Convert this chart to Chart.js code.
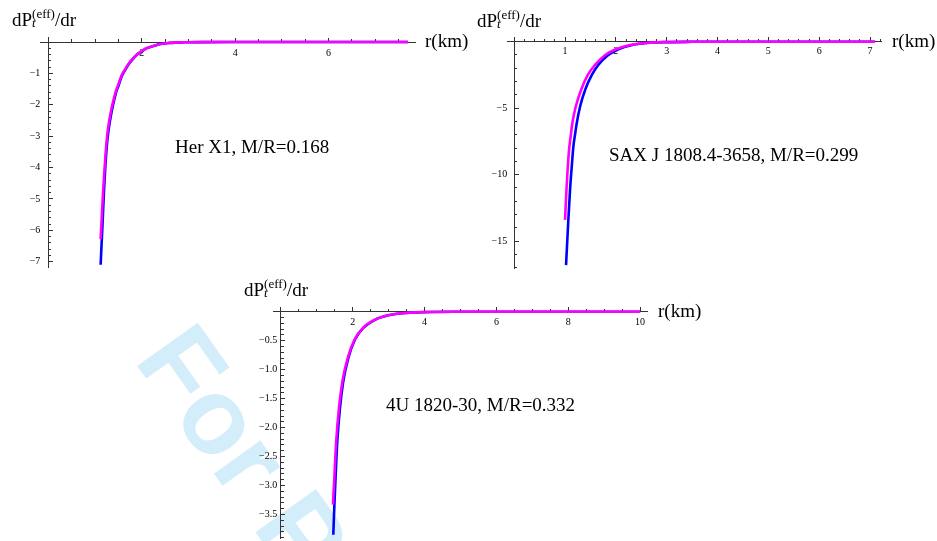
<!DOCTYPE html>
<html>
<head>
<meta charset="utf-8">
<script src="https://cdn.jsdelivr.net/npm/chart.js@4.4.0/dist/chart.umd.min.js"></script>
<style>
html,body{margin:0;padding:0;background:#fff;}
body{width:937px;height:541px;position:relative;overflow:hidden;font-family:"Liberation Serif","Times New Roman",serif;color:#000;}
canvas{position:absolute;}
.txt{position:absolute;font-size:19px;line-height:19px;white-space:nowrap;}
.wm{position:absolute;left:133px;top:360px;transform-origin:0 0;transform:rotate(54.6deg) translateY(-91px);font-family:"Liberation Sans",Arial,sans-serif;font-weight:bold;font-size:108px;line-height:108px;color:#D4EDFA;white-space:nowrap;}
.ss{position:relative;}
.sup{position:relative;top:-8px;font-size:13px;}
.sub{position:absolute;left:0;top:7px;font-size:13px;line-height:13px;font-style:italic;}
</style>
</head>
<body>
<div class="wm">For Peer Review</div>
<canvas id="c1" width="470" height="280" style="left:0px;top:0px;"></canvas>
<canvas id="c2" width="467" height="280" style="left:470px;top:0px;"></canvas>
<canvas id="c3" width="500" height="300" style="left:220px;top:270px;"></canvas>

<div class="txt" style="left:12px;top:10px;">dP<span class="ss"><i class="sub">t</i><span class="sup">(eff)</span></span>/dr</div>
<div class="txt" style="left:425px;top:30.5px;">r(km)</div>
<div class="txt" style="left:175px;top:137px;">Her X1, M/R=0.168</div>

<div class="txt" style="left:477px;top:10.5px;">dP<span class="ss"><i class="sub">t</i><span class="sup">(eff)</span></span>/dr</div>
<div class="txt" style="left:892px;top:30.5px;">r(km)</div>
<div class="txt" style="left:609px;top:145px;">SAX J 1808.4-3658, M/R=0.299</div>

<div class="txt" style="left:244px;top:280px;">dP<span class="ss"><i class="sub">t</i><span class="sup">(eff)</span></span>/dr</div>
<div class="txt" style="left:658px;top:300.5px;">r(km)</div>
<div class="txt" style="left:386px;top:395px;">4U 1820-30, M/R=0.332</div>

<script>
// ---------- Panel 1: Her X1, M/R=0.168 ----------
const p1BlueR = [1.12, 1.14, 1.16, 1.19, 1.22, 1.26, 1.30, 1.35, 1.40, 1.45, 1.50, 1.57, 1.65, 1.72, 1.80, 1.90, 2.00, 2.10, 2.25, 2.40, 2.60, 2.90, 3.30, 4.00, 5.00, 6.00, 7.00, 7.70];
const p1BlueV = [-7.10, -6.45, -5.82, -4.80, -3.98, -3.19, -2.70, -2.26, -1.91, -1.61, -1.40, -1.10, -0.88, -0.71, -0.56, -0.40, -0.30, -0.205, -0.13, -0.062, -0.028, -0.009, -0.002, -0.001, 0, 0, 0, 0];
const p1MagR  = [1.12, 1.14, 1.16, 1.19, 1.22, 1.26, 1.30, 1.35, 1.40, 1.45, 1.50, 1.57, 1.65, 1.72, 1.80, 1.90, 2.00, 2.10, 2.25, 2.40, 2.60, 2.90, 3.30, 4.00, 5.00, 6.00, 7.00, 7.70];
const p1MagV  = [-6.28, -5.70, -5.12, -4.35, -3.68, -2.98, -2.54, -2.14, -1.82, -1.55, -1.35, -1.06, -0.855, -0.69, -0.545, -0.39, -0.29, -0.20, -0.125, -0.060, -0.027, -0.009, -0.002, -0.001, 0, 0, 0, 0];
const p1XTicks = [2, 4, 6];
const p1YTicks = [-1, -2, -3, -4, -5, -6, -7];

// ---------- Panel 2: SAX J 1808.4-3658, M/R=0.299 ----------
const p2BlueR = [1.02, 1.045, 1.065, 1.10, 1.13, 1.165, 1.20, 1.23, 1.30, 1.40, 1.53, 1.65, 1.85, 2.05, 2.30, 2.60, 3.00, 3.50, 4.00, 5.00, 6.00, 7.10];
const p2BlueV = [-16.8, -14.9, -13.4, -11.05, -9.5, -7.85, -6.9, -6.13, -4.82, -3.58, -2.48, -1.77, -1.0, -0.57, -0.26, -0.10, -0.03, -0.008, -0.002, 0, 0, 0];
const p2MagR  = [1.00, 1.03, 1.055, 1.085, 1.11, 1.145, 1.21, 1.315, 1.45, 1.59, 1.79, 2.00, 2.28, 2.60, 3.00, 3.50, 4.00, 5.00, 6.00, 7.10];
const p2MagV  = [-13.4, -11.0, -9.35, -7.9, -7.15, -6.1, -4.89, -3.63, -2.48, -1.75, -1.0, -0.57, -0.25, -0.095, -0.03, -0.008, -0.002, 0, 0, 0];
const p2XTicks = [1, 2, 3, 4, 5, 6, 7];
const p2YTicks = [-5, -10, -15];

// ---------- Panel 3: 4U 1820-30, M/R=0.332 ----------
const p3BlueR = [1.46, 1.487, 1.526, 1.571, 1.646, 1.738, 1.878, 2.064, 2.295, 2.62, 2.99, 3.5, 4.0, 5.0, 6.0, 7.0, 8.0, 9.0, 10.0];
const p3BlueV = [-3.85, -3.39, -2.82, -2.24, -1.66, -1.20, -0.80, -0.48, -0.28, -0.14, -0.062, -0.02, -0.007, -0.001, 0, 0, 0, 0, 0];
const p3MagR  = [1.45, 1.492, 1.54, 1.618, 1.714, 1.86, 2.052, 2.295, 2.62, 2.99, 3.5, 4.0, 5.0, 6.0, 7.0, 8.0, 9.0, 10.0];
const p3MagV  = [-3.33, -2.82, -2.24, -1.66, -1.20, -0.80, -0.48, -0.275, -0.138, -0.061, -0.02, -0.007, -0.001, 0, 0, 0, 0, 0];
const p3XTicks = [2, 4, 6, 8, 10];
const p3YTicks = [-0.5, -1.0, -1.5, -2.0, -2.5, -3.0, -3.5];

// ---------- helpers ----------
const AXIS = '#333333';
const TICKFONT = {family: 'Liberation Serif', size: 10};

function pts(xs, ys) { return xs.map((x, i) => ({x: x, y: ys[i]})); }

function minorTicks(min, max, step, majors) {
  const out = [];
  for (let k = Math.ceil(min / step - 1e-9); k * step <= max + 1e-9; k++) {
    const v = +(k * step).toFixed(6);
    if (Math.abs(v) < 1e-9) continue;
    if (majors.some(m => Math.abs(m - v) < 1e-9)) continue;
    out.push(v);
  }
  return out;
}

function fmt(dec) {
  return v => (v < 0 ? '\u2212' : '') + Math.abs(v).toFixed(dec);
}

function setTicks(vals) {
  return s => { s.ticks = vals.map(v => ({value: v})); };
}

function axisSet(dir, o) {
  const other = dir === 'x' ? 'y' : 'x';
  const base = {type: 'linear', axis: dir, min: o.min, max: o.max};
  const res = {};
  res[dir] = Object.assign({}, base, {
    position: {[other]: 0},
    z: dir === 'x' ? 1 : 0,
    border: {display: true, color: AXIS, width: 1},
    grid: {display: true, drawOnChartArea: false, drawTicks: true, tickLength: -5, tickWidth: 1, tickColor: AXIS, color: AXIS},
    ticks: {autoSkip: false, maxRotation: 0, minRotation: 0, padding: 0, font: TICKFONT, callback: () => ''},
    afterBuildTicks: setTicks(o.major)
  });
  res[dir + 'm'] = Object.assign({}, base, {
    position: {[other]: 0},
    border: {display: false},
    grid: {display: true, drawOnChartArea: false, drawTicks: true, tickLength: -3, tickWidth: 1, tickColor: AXIS, color: AXIS},
    ticks: {autoSkip: false, maxRotation: 0, minRotation: 0, padding: 0, font: TICKFONT, callback: () => ''},
    afterBuildTicks: setTicks(minorTicks(o.min, o.max, o.minorStep, o.major))
  });
  res[dir + 'l'] = Object.assign({}, base, {
    position: {[other]: o.labelAt},
    border: {display: false},
    grid: {display: false, drawOnChartArea: false, drawTicks: false},
    ticks: {autoSkip: false, maxRotation: 0, minRotation: 0, padding: 0, color: '#000', font: TICKFONT, callback: fmt(o.dec)},
    afterBuildTicks: setTicks(o.major)
  });
  return res;
}

function makeChart(id, p) {
  const cv = document.getElementById(id);
  const areaW = cv.width - p.pad.left - p.pad.right;
  const areaH = cv.height - p.pad.top - p.pad.bottom;
  const xPerPx = (p.x.max - p.x.min) / areaW;
  const yPerPx = (p.y.max - p.y.min) / areaH;
  const xs = axisSet('x', Object.assign({}, p.x, {labelAt: -p.xLabelGap * yPerPx}));
  const ys = axisSet('y', Object.assign({}, p.y, {labelAt: -p.yLabelGap * xPerPx}));
  const scales = Object.assign({}, xs, ys);
  return new Chart(cv, {
    type: 'line',
    data: {
      datasets: [
        {data: pts(p.blueR, p.blueV), order: 2, borderColor: '#0000FF', borderWidth: 2.6, pointRadius: 0, cubicInterpolationMode: 'monotone', fill: false, xAxisID: 'x', yAxisID: 'y'},
        {data: pts(p.magR, p.magV), order: 1, borderColor: '#FF00FF', borderWidth: 2.6, pointRadius: 0, cubicInterpolationMode: 'monotone', fill: false, xAxisID: 'x', yAxisID: 'y'}
      ]
    },
    options: {
      responsive: false,
      animation: false,
      devicePixelRatio: 1,
      layout: {padding: p.pad},
      plugins: {legend: {display: false}, tooltip: {enabled: false}, title: {display: false}},
      scales: scales
    }
  });
}

makeChart('c1', {
  pad: {left: 40, right: 55, top: 37, bottom: 13},
  x: {min: -0.178, max: 7.85, major: p1XTicks, minorStep: 0.5, dec: 0},
  y: {min: -7.17, max: 0.16, major: p1YTicks, minorStep: 0.2, dec: 0},
  xLabelGap: 5.3, yLabelGap: 8,
  blueR: p1BlueR, blueV: p1BlueV, magR: p1MagR, magV: p1MagV
});

makeChart('c2', {
  pad: {left: 37.7, right: 55.3, top: 37.7, bottom: 11.7},
  x: {min: -0.128, max: 7.23, major: p2XTicks, minorStep: 0.2, dec: 0},
  y: {min: -17.04, max: 0.3, major: p2YTicks, minorStep: 1, dec: 0},
  xLabelGap: 4, yLabelGap: 7,
  blueR: p2BlueR, blueV: p2BlueV, magR: p2MagR, magV: p2MagV
});

makeChart('c3', {
  pad: {left: 53.3, right: 72.7, top: 37.3, bottom: 31.7},
  x: {min: -0.21, max: 10.2, major: p3XTicks, minorStep: 0.5, dec: 0},
  y: {min: -3.91, max: 0.076, major: p3YTicks, minorStep: 0.1, dec: 1},
  xLabelGap: 4.6, yLabelGap: 3.6,
  blueR: p3BlueR, blueV: p3BlueV, magR: p3MagR, magV: p3MagV
});
</script>
</body>
</html>
